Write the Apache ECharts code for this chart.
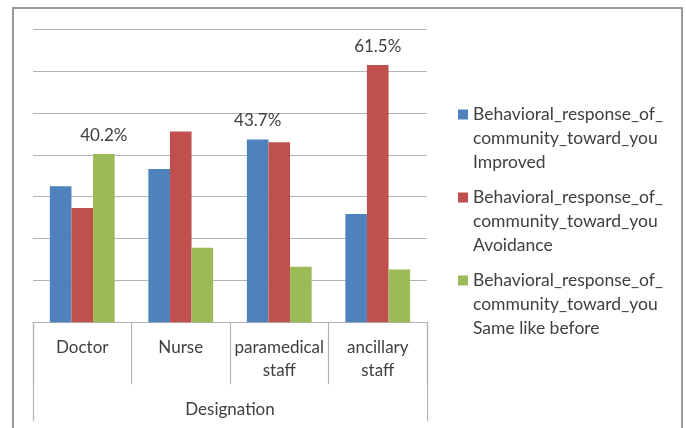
<!DOCTYPE html>
<html>
<head>
<meta charset="utf-8">
<script src="https://cdn.jsdelivr.net/npm/echarts@6/dist/echarts.min.js"></script>
<style>
html,body{margin:0;padding:0;background:#fff;}
#chart{width:686px;height:428px;}
</style>
</head>
<body>
<div id="chart"></div>
<script>
const categories = ['Doctor', 'Nurse', 'paramedical\nstaff', 'ancillary\nstaff'];
const axisTitle = 'Designation';
const seriesNames = [
  'Behavioral_response_of_\ncommunity_toward_you\nImproved',
  'Behavioral_response_of_\ncommunity_toward_you\nAvoidance',
  'Behavioral_response_of_\ncommunity_toward_you\nSame like before'
];
const improved = [32.5, 36.6, 43.7, 25.9];
const avoidance = [27.3, 45.6, 43.0, 61.5];
const sameLikeBefore = [40.2, 17.8, 13.3, 12.6];
const showLabel = [
  [false, false, true, false],
  [false, false, false, true],
  [true, false, false, false]
];
const colors = ['#4F81BD', '#C0504D', '#9BBB59'];
const yTicks = [0, 10, 20, 30, 40, 50, 60, 70];

const FONT = 'Lato';
const TXT = '#404040';

const values = [improved, avoidance, sameLikeBefore];
const chart = echarts.init(document.getElementById('chart'), null, {renderer: 'canvas'});

const series = values.map((vals, si) => ({
  name: seriesNames[si],
  type: 'bar',
  barWidth: 21.6,
  barGap: '0%',
  itemStyle: {color: colors[si]},
  data: vals.map((v, i) => ({
    value: v,
    label: {
      show: showLabel[si][i],
      position: 'top',
      distance: 10,
      formatter: v.toFixed(1) + '%',
      fontFamily: FONT,
      fontSize: 17,
      color: TXT
    }
  }))
}));

chart.setOption({
  animation: false,
  backgroundColor: '#fff',
  color: colors,
  graphic: [{
    type: 'rect',
    shape: {x: 13, y: 8, width: 669, height: 440},
    style: {fill: 'none', stroke: '#9a9a9a', lineWidth: 2},
    silent: true,
    z: -10
  }],
  grid: {left: 33, right: 259, top: 29.3, bottom: 105.7, containLabel: false},
  legend: {
    orient: 'vertical',
    left: 458,
    top: 102.5,
    padding: 0,
    itemWidth: 10,
    itemHeight: 72,
    itemGap: 11,
    icon: 'path://M0,0L0.01,0L0,0.01Z M0,7L10,7L10,17L0,17Z M9.99,72L10,72L10,71.99Z',
    textStyle: {fontFamily: FONT, fontSize: 17.5, lineHeight: 24, color: TXT},
    data: seriesNames
  },
  xAxis: [{
    type: 'category',
    data: categories,
    position: 'bottom',
    axisLine: {show: true, lineStyle: {color: '#b3b3b3', width: 1.2}},
    axisTick: {show: true, interval: 0, length: 62, lineStyle: {color: '#b3b3b3', width: 1.2}},
    axisLabel: {interval: 0, margin: 14, fontFamily: FONT, fontSize: 17, lineHeight: 23, color: TXT}
  }, {
    type: 'category',
    data: [axisTitle],
    position: 'bottom',
    axisLine: {show: false},
    axisTick: {show: true, length: 99, lineStyle: {color: '#b3b3b3', width: 1.2}},
    axisLabel: {margin: 76, fontFamily: FONT, fontSize: 17, lineHeight: 23, color: TXT}
  }],
  yAxis: {
    type: 'value',
    min: yTicks[0],
    max: yTicks[yTicks.length - 1],
    interval: yTicks[1] - yTicks[0],
    axisLabel: {show: false},
    axisLine: {show: false},
    axisTick: {show: false},
    splitLine: {show: true, lineStyle: {color: '#b3b3b3', width: 1.2}}
  },
  series: series
});
</script>
</body>
</html>
